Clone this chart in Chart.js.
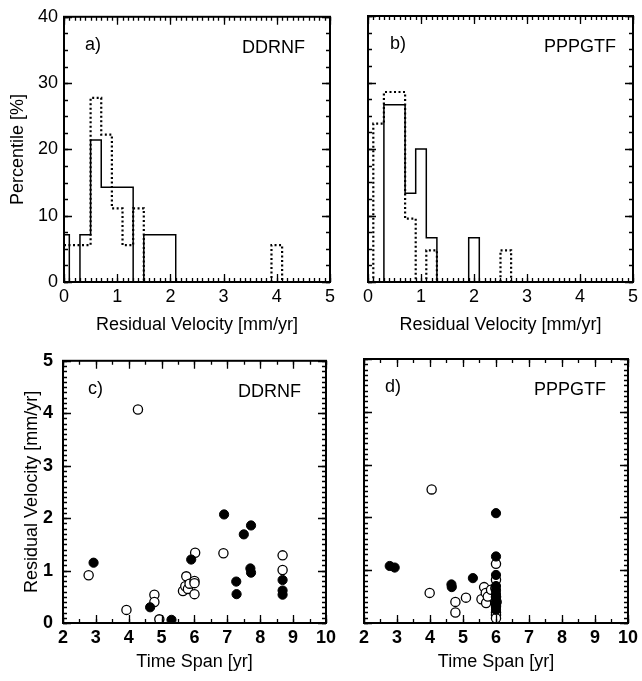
<!DOCTYPE html>
<html>
<head>
<meta charset="utf-8">
<script src="https://cdn.jsdelivr.net/npm/chart.js@4.4.0/dist/chart.umd.min.js"></script>
<style>
    body { margin: 0; background: #fff; width: 642px; height: 681px; position: relative; overflow: hidden; }
    canvas { position: absolute; }
</style>
</head>
<body>
<canvas id="chart-a" width="340" height="340" style="left:0;top:0"></canvas>
<canvas id="chart-b" width="312" height="340" style="left:330px;top:0"></canvas>
<canvas id="chart-c" width="340" height="341" style="left:0;top:340px"></canvas>
<canvas id="chart-d" width="312" height="341" style="left:330px;top:340px"></canvas>
<script>
// Histogramas: centros de clase (ancho 0.2 mm/yr) y porcentajes
const binCenters = [0, 0.2, 0.4, 0.6, 0.8, 1.0, 1.2, 1.4, 1.6, 1.8, 2.0, 2.2, 2.4, 2.6, 2.8, 3.0, 3.2, 3.4, 3.6, 3.8, 4.0];
const binWidth = 0.2;
const ddrnfSolid   = [7.14, 0, 7.14, 21.43, 14.29, 14.29, 14.29, 0, 7.14, 7.14, 7.14, 0, 0, 0, 0, 0, 0, 0, 0, 0, 0];
const ddrnfDotted  = [5.56, 5.56, 5.56, 27.78, 22.22, 11.11, 5.56, 11.11, 0, 0, 0, 0, 0, 0, 0, 0, 0, 0, 0, 0, 5.56];
const pppgtfSolid  = [0, 0, 26.67, 26.67, 13.33, 20.0, 6.67, 0, 0, 0, 6.67, 0, 0, 0, 0, 0, 0, 0, 0, 0, 0];
const pppgtfDotted = [0, 23.81, 28.57, 28.57, 9.52, 0, 4.76, 0, 0, 0, 0, 0, 0, 4.76, 0, 0, 0, 0, 0, 0, 0];

// Dispersión c) DDRNF: lapso [yr] vs velocidad residual [mm/yr]
const ddrnfOpenSpan   = [2.78, 3.93, 4.28, 4.78, 4.78, 4.93, 5.65, 5.72, 5.75, 5.80, 5.85, 6.00, 6.00, 6.00, 6.02, 6.88, 8.68, 8.68];
const ddrnfOpenVel    = [0.91, 0.25, 4.07, 0.54, 0.40, 0.07, 0.61, 0.70, 0.89, 0.65, 0.75, 0.80, 0.76, 0.55, 1.34, 1.33, 1.29, 1.01];
const ddrnfFilledSpan = [2.93, 4.65, 5.30, 5.90, 6.90, 7.27, 7.28, 7.50, 7.72, 7.70, 7.72, 8.68, 8.68, 8.68];
const ddrnfFilledVel  = [1.15, 0.30, 0.06, 1.21, 2.07, 0.79, 0.55, 1.69, 1.86, 1.04, 0.96, 0.82, 0.62, 0.54];

// Dispersión d) PPPGTF
const pppgtfOpenSpan   = [4.05, 3.99, 4.77, 4.77, 5.09, 5.56, 5.64, 5.69, 5.70, 5.75, 5.85, 6.00, 6.00, 5.98, 6.00, 6.02, 6.00, 6.00, 6.00, 6.00];
const pppgtfOpenVel    = [2.53, 0.57, 0.40, 0.20, 0.48, 0.45, 0.68, 0.57, 0.38, 0.50, 0.63, 1.12, 0.82, 0.66, 0.50, 0.40, 0.32, 0.20, 0.15, 0.09];
const pppgtfFilledSpan = [2.78, 2.93, 4.65, 4.66, 5.30, 6.00, 6.00, 6.00, 6.00, 6.00, 6.00, 6.00, 6.00, 6.00, 6.00, 6.00];
const pppgtfFilledVel  = [1.08, 1.05, 0.73, 0.68, 0.85, 2.08, 1.26, 0.91, 0.70, 0.62, 0.55, 0.48, 0.42, 0.36, 0.30, 0.25];

Chart.defaults.font.family = "'Liberation Sans', Arial, sans-serif";
Chart.defaults.font.size = 18;
Chart.defaults.color = '#000';

// Convierte porcentajes por clase en puntos para una línea escalonada
function stepPoints(values, xMax) {
    const pts = values.map((v, i) => ({ x: Math.max(0, binCenters[i] - binWidth / 2), y: v }));
    pts.push({ x: binCenters[binCenters.length - 1] + binWidth / 2, y: 0 });
    pts.push({ x: xMax, y: 0 });
    return pts;
}

function toPoints(xs, ys) {
    return xs.map((x, i) => ({ x: x, y: ys[i] }));
}

// Marco con marcas interiores en los cuatro lados y rótulos del panel
const frameTicks = {
    id: 'frameTicks',
    afterDatasetsDraw(chart, args, opts) {
        const { ctx, chartArea: a, scales: { x, y } } = chart;
        ctx.save();
        ctx.strokeStyle = '#000';
        ctx.lineWidth = 1.3;
        const marks = (scale, step, len) => {
            const n = Math.round((scale.max - scale.min) / step);
            ctx.beginPath();
            for (let i = 0; i <= n; i++) {
                const p = Math.round(scale.getPixelForValue(scale.min + i * step)) + 0.5;
                if (scale === x) {
                    ctx.moveTo(p, a.bottom); ctx.lineTo(p, a.bottom - len);
                    ctx.moveTo(p, a.top); ctx.lineTo(p, a.top + len);
                } else {
                    ctx.moveTo(a.left, p); ctx.lineTo(a.left + len, p);
                    ctx.moveTo(a.right, p); ctx.lineTo(a.right - len, p);
                }
            }
            ctx.stroke();
        };
        marks(x, opts.xMinor, opts.minorLen);
        marks(x, opts.xMajor, opts.majorLen);
        marks(y, opts.yMinor, opts.minorLen);
        marks(y, opts.yMajor, opts.majorLen);
        ctx.lineWidth = 2;
        ctx.strokeRect(a.left, a.top, a.right - a.left, a.bottom - a.top);

        ctx.fillStyle = '#000';
        ctx.font = "18px 'Liberation Sans', Arial, sans-serif";
        ctx.textBaseline = 'middle';
        ctx.textAlign = 'left';
        ctx.fillText(opts.tag, a.left + opts.tagX, a.top + 28);
        ctx.textAlign = 'right';
        ctx.fillText(opts.name, a.right - opts.nameX, a.top + 31);
        ctx.restore();
    }
};

function axisX(min, max, title, bold, height, titlePad) {
    return {
        type: 'linear', min: min, max: max,
        grid: { display: false, drawTicks: false },
        border: { display: false },
        ticks: { stepSize: 1, padding: 4, maxRotation: 0, autoSkip: false,
                 font: { weight: bold ? 'bold' : 'normal' } },
        title: { display: true, text: title, padding: { top: 0, bottom: titlePad } },
        afterFit: scale => { scale.height = height; }
    };
}

function axisY(min, max, step, title, bold, width, titlePad, tickPad) {
    return {
        type: 'linear', min: min, max: max,
        grid: { display: false, drawTicks: false },
        border: { display: false },
        ticks: { stepSize: step, padding: tickPad, display: title !== '',
                 font: { weight: bold ? 'bold' : 'normal' } },
        title: { display: title !== '', text: title, padding: { top: titlePad, bottom: 0 } },
        afterFit: scale => { scale.width = width; }
    };
}

function crearHistograma(id, solid, dotted, yTitle, yWidth, rightPad, tag, name, tagX, nameX) {
    const ctx = document.getElementById(id).getContext('2d');
    return new Chart(ctx, {
        type: 'scatter',
        data: {
            datasets: [{
                data: stepPoints(solid, 5),
                showLine: true, stepped: 'before',
                borderColor: '#000', borderWidth: 1.5, pointRadius: 0
            }, {
                data: stepPoints(dotted, 5),
                showLine: true, stepped: 'before',
                borderColor: '#000', borderWidth: 2.2, borderDash: [2, 2.5], pointRadius: 0
            }]
        },
        options: {
            responsive: false, animation: false,
            layout: { padding: { top: 16, right: rightPad, left: 0, bottom: 0 } },
            scales: {
                x: axisX(0, 5, 'Residual Velocity [mm/yr]', false, 58, 4),
                y: axisY(0, 40, 10, yTitle, false, yWidth, 7, 6)
            },
            plugins: {
                legend: { display: false }, tooltip: { enabled: false },
                frameTicks: { xMajor: 1, xMinor: 0.1, yMajor: 10, yMinor: 2.5, majorLen: 8, minorLen: 4,
                              tag: tag, name: name, tagX: tagX, nameX: nameX }
            }
        },
        plugins: [frameTicks]
    });
}

function crearDispersion(id, filled, open, yTitle, yWidth, rightPad, tag, name, tagX, nameX) {
    const ctx = document.getElementById(id).getContext('2d');
    return new Chart(ctx, {
        type: 'scatter',
        data: {
            datasets: [{
                data: filled,
                pointRadius: 4.6, pointBackgroundColor: '#000', pointBorderColor: '#000', pointBorderWidth: 1
            }, {
                data: open,
                pointRadius: 4.6, pointBackgroundColor: '#fff', pointBorderColor: '#000', pointBorderWidth: 1.3
            }]
        },
        options: {
            responsive: false, animation: false,
            layout: { padding: { top: 19, right: rightPad, left: 0, bottom: 0 } },
            scales: {
                x: axisX(2, 10, 'Time Span [yr]', true, 58, 8),
                y: axisY(0, 5, 1, yTitle, true, yWidth, 21, 10)
            },
            plugins: {
                legend: { display: false }, tooltip: { enabled: false },
                frameTicks: { xMajor: 1, xMinor: 0.5, yMajor: 1, yMinor: 0.1, majorLen: 8, minorLen: 4,
                              tag: tag, name: name, tagX: tagX, nameX: nameX }
            }
        },
        plugins: [frameTicks]
    });
}

crearHistograma('chart-a', ddrnfSolid, ddrnfDotted, 'Percentile [%]', 64, 10, 'a)', 'DDRNF', 21, 25);
crearHistograma('chart-b', pppgtfSolid, pppgtfDotted, '', 38, 9, 'b)', 'PPPGTF', 22, 17);
crearDispersion('chart-c', toPoints(ddrnfFilledSpan, ddrnfFilledVel), toPoints(ddrnfOpenSpan, ddrnfOpenVel),
                'Residual Velocity [mm/yr]', 63, 10, 'c)', 'DDRNF', 25, 25);
crearDispersion('chart-d', toPoints(pppgtfFilledSpan, pppgtfFilledVel), toPoints(pppgtfOpenSpan, pppgtfOpenVel),
                '', 34, 13, 'd)', 'PPPGTF', 21, 22);
</script>
</body>
</html>
